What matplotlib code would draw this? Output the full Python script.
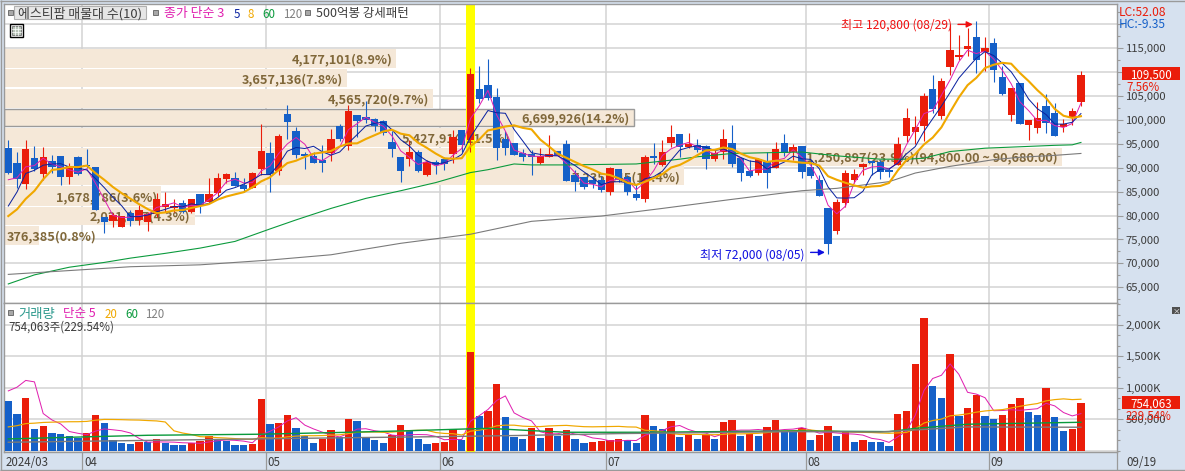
import numpy as np
import matplotlib
matplotlib.use("Agg")
import matplotlib.pyplot as plt
from matplotlib.patches import Rectangle
from matplotlib.ticker import FixedLocator, FuncFormatter, MultipleLocator
from matplotlib.transforms import blended_transform_factory

plt.rcParams['font.family'] = ['Noto Sans CJK KR', 'DejaVu Sans']

# ---------- data ----------
opens = [94200,91000,86600,92100,88700,91400,92500,88100,92300,90500,90200,79700,78900,77600,80600,79100,78700,80400,81800,81600,
 82700,80800,84500,82900,84800,87700,87900,86400,85800,89800,93100,89400,101300,97700,92800,92500,91700,93000,98800,94600,
 101100,100600,100200,99800,95400,92300,91900,93300,88500,91200,91900,92900,97900,95800,106500,107300,104800,96000,95200,93100,
 92900,91000,92300,93500,95000,88500,88100,87500,87500,85000,89800,88100,84500,83500,92500,90600,95200,97100,94400,94800,
 94600,91900,93300,95200,92100,89400,88900,91200,90000,95200,93300,94600,90200,87500,81600,76800,82700,87500,90200,91400,
 91200,89600,90600,96700,97500,98800,106500,100900,111100,113200,114900,117400,114200,116100,109000,101100,107800,99000,98300,102900,
 101500,98600,100400,103800]
closes = [89000,87700,93900,89800,92300,90200,88100,90400,88700,90300,81200,78700,80200,79900,78900,81200,80400,83500,82500,82000,
 80800,83500,82000,84500,87900,88700,86200,85600,88900,93500,88700,96700,99600,92700,92500,91000,91000,96000,96000,101900,
 99800,100000,98800,97300,93900,89400,93300,89400,91200,90600,90800,96500,94800,109600,104400,104600,94200,94200,92700,92300,
 92300,92500,92900,92500,87300,87100,86000,86600,85400,90000,87500,85000,83700,92300,92100,93300,96500,94400,95000,93700,
 91900,93100,96000,90800,88900,88300,91900,88900,93900,93100,94400,89100,88300,84100,74100,82900,88900,88700,90800,91000,
 89100,89100,95000,100400,98600,105000,102300,108200,114700,113600,115500,112600,115100,110500,105500,106700,99200,100000,100400,99400,
 96700,99200,101900,109500]
highs = [95800,93400,95800,94600,94400,92700,92500,91000,92500,93900,90200,79700,80500,79900,81200,82200,80800,84700,85000,83500,
 83300,83500,84500,87900,88900,88900,89100,87900,89100,99200,95400,97100,103200,98600,93300,93300,94800,98100,99200,103200,
 101100,104000,100400,100000,97600,92300,95800,93700,91700,91700,92300,97900,97900,110900,111300,112800,106700,97600,95200,93900,
 93700,94200,96900,93500,95800,89600,88100,88300,88200,90200,89800,88500,86600,92700,95200,95800,99000,97100,97300,96000,
 94800,93700,98100,99000,92300,91700,92100,93300,95400,97100,95000,94600,91700,88500,81600,83500,89600,89800,91000,91400,
 91700,90000,96500,102500,100900,105700,109400,108800,120100,117800,119200,120800,117400,117200,111200,106700,107800,100000,103800,105500,
 103600,100200,102500,110300]
lows = [88700,85700,85600,89400,87500,88900,86400,86600,88500,89900,81200,76400,77700,77600,77900,78100,76800,79800,80800,80800,
 80500,80600,80600,82900,84000,86800,86100,85000,85800,88500,85000,88500,96000,92000,89800,91000,89100,91400,95600,93700,
 96500,99400,97700,96900,92300,87100,90400,89100,88200,88700,89600,91000,93300,93300,103500,104200,91700,92700,92700,91400,
 88500,90800,92300,92500,87300,85200,85600,85800,85000,84300,87100,84300,83300,82900,90800,90400,94400,92200,94200,93300,
 89800,91400,91900,90200,87300,88100,88500,85800,90000,92500,91700,87900,87900,84000,72000,76200,81800,86800,88500,88500,
 87600,88000,90600,95400,95000,95600,101400,100200,109400,112600,113400,109800,110300,108000,105200,99800,99200,95800,97300,97300,
 96700,97500,99000,102900]
pre_close = [76400,76400,76400,73000,74500,86500,87000]

ma60_bars = [0,3,7,11,14,18,22,26,30,33,37,41,45,49,53,55,58,60,64,72,74,77,79,83,91,95,100,103,105,108,112,116,120,122,123]
ma60_vals = [65700,67600,69200,70200,71100,72100,73200,74600,77200,79100,81500,83600,85200,86900,89000,89600,90800,90600,90600,90800,
             91200,91800,92300,93000,93300,92500,91800,91800,92000,93400,94100,94400,94700,94800,95300]
ma120_bars = [0,7,14,22,30,37,45,53,60,68,75,83,91,95,101,104,108,113,116,120,123]
ma120_vals = [67700,68500,69300,69700,70700,71800,74200,76100,78800,79900,81500,83400,85200,85700,87100,88900,90300,91700,92200,92600,93000]

volumes = [791,584,839,345,393,281,266,234,202,281,568,441,165,122,106,138,136,186,122,90,
 89,122,154,234,186,154,90,89,106,823,425,441,568,361,234,122,186,329,218,504,
 473,218,170,122,250,409,313,186,106,122,138,345,170,1572,552,632,1062,536,218,186,
 361,202,361,234,329,186,122,138,154,170,186,170,122,568,393,345,473,218,250,186,
 266,186,457,489,234,266,234,377,489,313,297,356,170,250,393,234,297,138,170,138,
 136,74,584,632,1381,2113,1030,839,1540,552,680,887,552,504,568,743,839,616,568,998,
 536,313,345,754]
pre_volume = [190,180,200,170,185,195,175,190,180,200,185,190,175,190,183,289,300,460,2912]
vma60_bars = [0,10,16,29,39,45,55,60,64,73,90,101,102,104,110,123]
vma60_vals = [186,223,244,261,292,313,355,318,292,292,313,302,318,355,420,451]
vma120_bars = [0,20,40,50,60,70,80,90,100,104,110,123]
vma120_vals = [133,170,207,223,244,271,287,302,297,329,377,372]

band_tops = [114800,110600,106500,102400,98400,94200,90300,86100,81900,77900]
band_bottoms = [110900,106800,102600,98700,94400,90400,86300,82100,78100,73800]
band_volumes = [4177101,3657136,4565720,6699926,5427914,11250897,7235145,1678786,2031317,376385]
band_labels = ['4,177,101(8.9%)','3,657,136(7.8%)','4,565,720(9.7%)','6,699,926(14.2%)','5,427,914(11.5%)',
               '11,250,897(23.9%)(94,800.00 ~ 90,680.00)','7,235,145(15.4%)','1,678,786(3.6%)','2,031,317(4.3%)','376,385(0.8%)']
band_boxed = 3

month_starts = [9,30,50,69,92,113]
month_labels = ['04','05','06','07','08','09']
first_label = '2024/03'
last_label = '09/19'
highlight_bar = 53
high_bar, high_price = 111, 120800
low_bar, low_price = 94, 72000
price_ticks = list(range(65000,120001,5000))
vol_ticks = [500,1000,1500,2000]

RED='#EA1D0A'; BLUE='#1560C8'; ORANGE='#F0A800'; MAG='#E020B0'; NAVY='#0A22A0'; GREEN='#0A9A3C'; GREY='#7A7A7A'
PANEL='#D6E1EF'; GRID='#D2D2D2'; BAND='#F5E8D8'; BANDTXT='#80683A'; TXT='#3C3C3C'; EDGE='#9A9A9A'

W,H=1185,471
PX=0.72
fig=plt.figure(figsize=(W/100,H/100),dpi=100,facecolor=PANEL)
def axpx(l,t,r,b,**k):
    return fig.add_axes([l/W,(H-b)/H,(r-l)/W,(b-t)/H],**k)
L,R,T,M,B=3.5,1117.3,3.5,303.3,452.3
ax=axpx(L,T,R,M,facecolor='white')
av=axpx(L,M,R,B,facecolor='white')
xlim=(-0.55,127.17)
ax.set_xlim(*xlim); av.set_xlim(*xlim)
ax.set_ylim(61650,124370)
av.set_ylim(-27,2345)

x=np.arange(len(closes))
o=np.array(opens);c=np.array(closes);h=np.array(highs);l=np.array(lows)
up=c>=o
cols=[RED if u else BLUE for u in up]

for a,ticks in ((ax,price_ticks),(av,[0]+vol_ticks)):
    a.set_axisbelow(True)
    for s in a.spines.values():
        s.set_color(EDGE); s.set_linewidth(1.0)
    a.set_xticks([])
    a.hlines(ticks,*xlim,color=GRID,lw=1.5*PX,zorder=0.5).set_snap(True)
    a.vlines(np.array(month_starts)-0.5,*a.get_ylim(),color=GRID,lw=1.5*PX,zorder=0.5).set_snap(True)
    a.axvspan(highlight_bar-0.5,highlight_bar+0.5,color='#FFFF00',lw=0,zorder=1.5)

# volume profile bands
vmax=max(band_volumes)
btr=ax.get_yaxis_transform()
axw=R-L
for i,(tp,b,vol,s) in enumerate(zip(band_tops,band_bottoms,band_volumes,band_labels)):
    w=vol/vmax*0.95
    ax.add_patch(Rectangle((0,b),w,tp-b,transform=btr,facecolor=BAND,
                           edgecolor=(EDGE if i==band_boxed else 'none'),lw=1.4*PX,zorder=1))
    ym=(tp+b)/2
    if w*axw<100:
        ax.annotate(s,(0,ym),xycoords=btr,xytext=(3,0),textcoords='offset pixels',ha='left',va='center_baseline',
                    color=BANDTXT,fontsize=9.1,fontweight='bold',zorder=2)
    else:
        ax.annotate(s,(w,ym),xycoords=btr,xytext=(-4,0),textcoords='offset pixels',ha='right',va='center_baseline',
                    color=BANDTXT,fontsize=9.1,fontweight='bold',zorder=2)

# candles
ax.vlines(x,l,h,colors=cols,lw=PX*1.1,zorder=3).set_snap(True)
ax.bar(x,np.maximum(np.abs(c-o),200),bottom=np.minimum(o,c),width=0.84,color=cols,lw=0,zorder=3.1)

# price MAs
cc=np.concatenate([pre_close,c]).astype(float)
def ma(series,n,pad):
    return np.convolve(series,np.ones(n)/n,'valid')[pad-n+1:]
ax.plot(x,ma(cc,3,7),color=MAG,lw=PX,zorder=4)
ax.plot(x,ma(cc,5,7),color=NAVY,lw=PX,zorder=4.1)
ax.plot(x,ma(cc,8,7),color=ORANGE,lw=2.1*PX,zorder=4.2)
ax.plot(ma60_bars,ma60_vals,color=GREEN,lw=PX*1.1,zorder=4)
ax.plot(ma120_bars,ma120_vals,color=GREY,lw=PX*1.1,zorder=4)

# high / low markers
ax.annotate('최고 120,800 (08/29)',(high_bar,high_price),xytext=(-24,-3),textcoords='offset pixels',
            ha='right',va='center_baseline',color='#F01010',fontsize=8.7,zorder=6)
ax.annotate('',(high_bar-0.4,high_price-800),xytext=(high_bar-2.1,high_price-800),
            arrowprops=dict(arrowstyle='-|>',color='#F01010',lw=1,mutation_scale=9,shrinkA=0,shrinkB=0),zorder=6)
ax.annotate('최저 72,000 (08/05)',(low_bar,low_price),xytext=(-24,0),textcoords='offset pixels',
            ha='right',va='center_baseline',color='#1010E0',fontsize=8.7,zorder=6)
ax.annotate('',(low_bar-0.35,low_price+300),xytext=(low_bar-2.0,low_price+300),
            arrowprops=dict(arrowstyle='-|>',color='#1010E0',lw=1,mutation_scale=9,shrinkA=0,shrinkB=0),zorder=6)

# volume bars
v=np.array(volumes,float)
vcols=[BLUE]+[RED if v[i]>=v[i-1] else BLUE for i in range(1,len(v))]
av.bar(x,v,bottom=0,width=0.84,color=vcols,lw=0,zorder=3)
vv=np.concatenate([pre_volume,v])
av.plot(x,ma(vv,5,19),color=MAG,lw=PX,zorder=4)
av.plot(x,ma(vv,20,19),color=ORANGE,lw=1.2*PX,zorder=4)
av.plot(vma60_bars,vma60_vals,color=GREEN,lw=1.4*PX,zorder=4)
av.plot(vma120_bars,vma120_vals,color=GREY,lw=1.4*PX,zorder=4)

# right axes
ax.yaxis.tick_right(); av.yaxis.tick_right()
ax.yaxis.set_major_locator(FixedLocator(price_ticks))
ax.yaxis.set_major_formatter(FuncFormatter(lambda y,_:'' if y>115000 else f'{int(y):,}'))
ax.yaxis.set_minor_locator(MultipleLocator(2500))
av.yaxis.set_major_locator(FixedLocator(vol_ticks))
av.yaxis.set_major_formatter(FuncFormatter(lambda y,_:f'{int(y):,},000' if y<1000 else f'{int(y):,}K'))
av.yaxis.set_minor_locator(MultipleLocator(500/3))
for a in (ax,av):
    a.tick_params(axis='y',which='major',length=4.6,width=0.8,color=EDGE,labelsize=8.1,labelcolor=TXT,pad=1.5)
    a.tick_params(axis='y',which='minor',length=2.4,width=0.8,color=EDGE)

# overlay for chrome and text
ov=fig.add_axes([0,0,1,1],facecolor='none',zorder=10)
ov.set_xlim(0,W);ov.set_ylim(H,0);ov.axis('off')
def t(px,py,s,color=TXT,size=8.3,ha='left',**k):
    return ov.text(px,py,s,color=color,fontsize=size,ha=ha,va='center_baseline',**k)
def sq(px,py):
    ov.add_patch(Rectangle((px,py-2.5),5,5,facecolor='#A8A8A8',edgecolor='#606060',lw=0.6))

# legends
sq(7.5,12)
ov.add_patch(Rectangle((14,6),132,13,facecolor='#E6E6E6',edgecolor='#B0B0B0',lw=0.8))
t(18,12.5,'에스티팜 매물대 수(10)',size=9.3)
sq(153,12)
t(164,12.5,'종가 단순 3',MAG,9.3)
t(234,12.5,'5',NAVY); t(248,12.5,'8',ORANGE); t(262,12.5,'60',GREEN); t(283,12.5,'120','#808080')
sq(305,12)
t(316,12.5,'500억봉 강세패턴',size=9.0)
ov.add_patch(Rectangle((9.5,23.5),13,13,facecolor='white',edgecolor='black',lw=1))
ov.add_patch(Rectangle((11.5,25.5),9,9,facecolor='#B8C4B8',edgecolor='#707070',lw=0.6))
for dx in (3,6): ov.plot([11.5+dx]*2,[25.5,34.5],color='white',lw=0.5)
for dy in (3,6): ov.plot([11.5,20.5],[25.5+dy]*2,color='white',lw=0.5)
sq(7.5,312)
t(18,312.5,'거래량','#2E9A8E',9.6)
t(63,312.5,'단순 5',MAG,9.0); t(105,312.5,'20',ORANGE); t(125,312.5,'60',GREEN); t(145,312.5,'120','#808080')
t(8,325.5,'754,063주(229.54%)')

# right panel
t(1118.5,11.5,'LC:52.08',RED,8.6)
t(1118.5,23.5,'HC:-9.35',BLUE,8.6)
ov.add_patch(Rectangle((1122,67),58,13,facecolor=RED,lw=0))
t(1151,74,f'{closes[-1]:,}','white',8.3,ha='center')
t(1126,86,'7.56%',RED,8.3)
ov.add_patch(Rectangle((1122,396.3),58,13,facecolor=RED,lw=0))
t(1151,403,f'{volumes[-1]},063','white',8.3,ha='center')
t(1126,415,'229.54%',RED,8.3)
ov.add_patch(Rectangle((1172,307),8,7,facecolor='#505050',lw=0))
t(1176,310.5,'×','white',5.5,ha='center')

# date strip
tr=blended_transform_factory(av.transData,ov.transData)
ov.vlines(np.array(month_starts)-0.5,B,470,transform=tr,colors=EDGE,lw=0.9)
ov.vlines([R],B,470,colors=EDGE,lw=0.9)
ov.text(5.5,460.5,first_label,color=TXT,fontsize=8.3,ha='left',va='center_baseline')
for m,s in zip(month_starts,month_labels):
    ov.annotate(s,(m-0.5,460.5),xycoords=tr,xytext=(1.5,0),textcoords='offset pixels',color=TXT,fontsize=8.3,ha='left',va='center_baseline')
t(1126,460.5,last_label)
ov.hlines([470],0,W,colors=EDGE,lw=1.0)
ov.vlines([0.5],0,H,colors=EDGE,lw=1.0)
ov.hlines([0.5],0,W,colors=EDGE,lw=1.0)

fig.savefig('out.png',dpi=100,facecolor=PANEL)
